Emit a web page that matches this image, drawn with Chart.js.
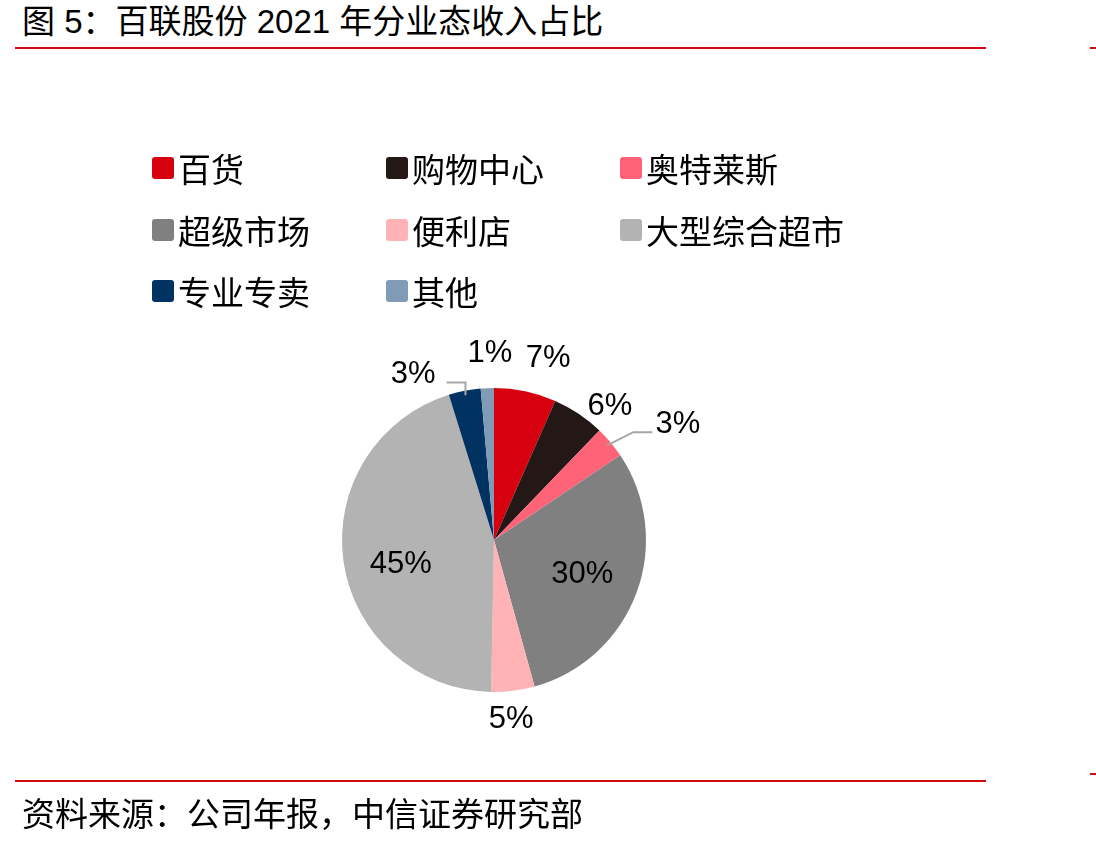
<!DOCTYPE html>
<html lang="zh">
<head>
<meta charset="utf-8">
<title>百联股份 2021 年分业态收入占比</title>
<script src="https://cdn.jsdelivr.net/npm/chart.js@4.4.1/dist/chart.umd.min.js"></script>
<style>
  html, body { margin:0; padding:0; background:#fff; }
  body { width:1096px; height:846px; position:relative; overflow:hidden;
         font-family:"Liberation Sans","Noto Sans CJK SC",sans-serif; color:#000; }
  .title { position:absolute; left:22px; top:4px; font-size:33px; line-height:36px; white-space:nowrap; }
  .source { position:absolute; left:22px; top:797px; font-size:33px; line-height:36px; white-space:nowrap; }
  .rule { position:absolute; height:2px; background:#d20a11; }
  #wrap { position:absolute; left:0; top:0; width:1096px; height:846px; }
  #legend { position:absolute; left:152px; top:156px; display:grid;
            grid-template-columns:234px 234px 234px; grid-auto-rows:61.5px; z-index:2; }
  .item { display:flex; align-items:center; height:24px; font-size:33px; white-space:nowrap; }
  .box { width:22px; height:22px; border-radius:3px; margin-right:4px; flex:none; }
</style>
</head>
<body>
<div class="title">图 5：百联股份 2021 年分业态收入占比</div>
<div class="rule" style="left:15px;top:47px;width:971px;"></div>
<div class="rule" style="left:1090px;top:47px;width:6px;"></div>

<div id="wrap"><canvas id="pie"></canvas></div>
<div id="legend"></div>

<div class="rule" style="left:15px;top:780px;width:971px;"></div>
<div class="rule" style="left:1090px;top:773px;width:6px;"></div>
<div class="source">资料来源：公司年报，中信证券研究部</div>

<script>
// 业态 / share of 2021 revenue (%), clockwise from 12 o'clock
const segments = ['百货','购物中心','奥特莱斯','超级市场','便利店','大型综合超市','专业专卖','其他'];
const shares   = [6.6, 5.6, 3.4, 30.1, 4.6, 44.9, 3.4, 1.4];
const colors   = ['#d7000f','#231815','#ff6378','#808080','#ffb3b5','#b3b3b3','#003262','#7f9bb5'];

// how each data label sits: inside the slice, outside it, or outside with a leader line
const labelMode  = ['out','out','leader','in','out','in','leader','out'];
const labelShift = [[16,-1],[13,20],[42,3],[0,2],[-6,-4],[0,11],[-45,16],[4,-2]];

const LABEL_FONT = '31px "Liberation Sans", Arial, sans-serif';

// draws the percentage labels (Chart.js core has no datalabels)
const pctLabels = {
  id: 'pctLabels',
  afterDatasetsDraw(chart){
    const ctx = chart.ctx;
    const meta = chart.getDatasetMeta(0);
    ctx.save();
    ctx.font = LABEL_FONT;
    ctx.textAlign = 'center';
    ctx.textBaseline = 'middle';
    meta.data.forEach((arc, i) => {
      const p = arc.getProps(['x','y','startAngle','endAngle','outerRadius'], true);
      const mid = (p.startAngle + p.endAngle) / 2;
      const r = p.outerRadius;
      const dist = labelMode[i] === 'in' ? r * 0.62 : r + 33;
      const lx = p.x + Math.cos(mid) * dist + labelShift[i][0];
      const ly = p.y + Math.sin(mid) * dist + labelShift[i][1];
      const txt = Math.round(shares[i]) + '%';

      if(labelMode[i] === 'leader'){
        const w = ctx.measureText(txt).width;
        const sx = p.x + Math.cos(mid) * r * 0.97;
        const sy = p.y + Math.sin(mid) * r * 0.97;
        const lineY = ly + 8;
        let ex, elx;
        if(lx > p.x){ ex = lx - w/2 - 3; elx = ex - 19; }
        else { ex = lx + w/2 + 11; elx = sx; }
        ctx.beginPath();
        ctx.strokeStyle = '#a6a6a6';
        ctx.lineWidth = 2;
        ctx.moveTo(sx, sy);
        ctx.lineTo(elx, lineY);
        ctx.lineTo(ex, lineY);
        ctx.stroke();
      }
      ctx.fillStyle = '#000';
      ctx.fillText(txt, lx, ly);
    });
    ctx.restore();
  }
};

const chart = new Chart(document.getElementById('pie'), {
  type: 'pie',
  data: {
    labels: segments,
    datasets: [{ data: shares, backgroundColor: colors, borderWidth: 0, hoverOffset: 0 }]
  },
  options: {
    responsive: true,
    maintainAspectRatio: false,
    animation: false,
    layout: { padding: { left: 342, right: 450, top: 388, bottom: 154 } },
    plugins: { legend: { display: false }, tooltip: { enabled: false } }
  },
  plugins: [pctLabels]
});

// legend in the 3-column grid of the original
const legendEl = document.getElementById('legend');
chart.data.labels.forEach((name, i) => {
  const item = document.createElement('div'); item.className = 'item';
  const box = document.createElement('span'); box.className = 'box';
  box.style.background = chart.data.datasets[0].backgroundColor[i];
  const txt = document.createElement('span'); txt.textContent = name;
  item.appendChild(box); item.appendChild(txt);
  legendEl.appendChild(item);
});
</script>
</body>
</html>
